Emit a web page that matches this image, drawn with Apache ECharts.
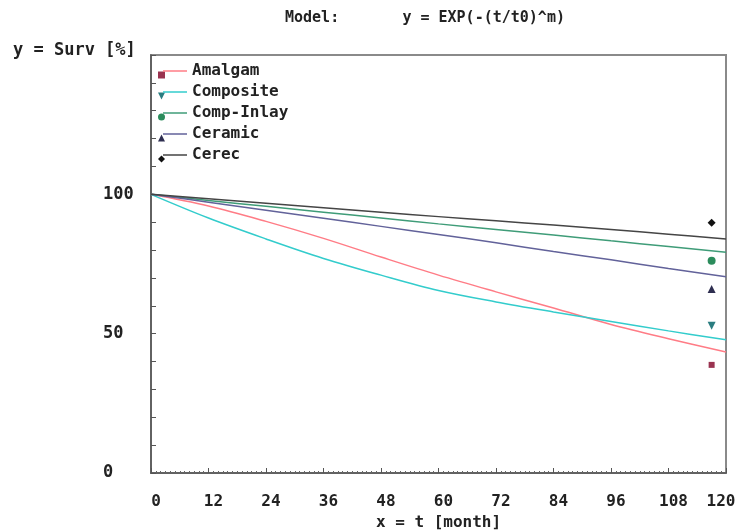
<!DOCTYPE html>
<html><head><meta charset="utf-8">
<script src="https://cdn.jsdelivr.net/npm/echarts@6/dist/echarts.min.js"></script>
<style>html,body{margin:0;padding:0;background:#fff}#c{width:741px;height:530px}</style>
</head><body><div id="c"></div>
<script>
// months at which curve values were read
const months = [0, 12, 24, 36, 48, 60, 72, 84, 96, 108, 120];
const names = ['Amalgam', 'Composite', 'Comp-Inlay', 'Ceramic', 'Cerec'];
// fitted model curves (survival %)
const amalgamCurve   = [100, 95.8, 90.3, 84.2, 77.5, 71.0, 65.0, 59.2, 53.3, 48.2, 43.4];
const compositeCurve = [100, 91.5, 84.0, 77.0, 71.0, 65.5, 61.4, 57.8, 54.4, 51.0, 47.8];
const compInlayCurve = [100, 97.8, 95.7, 93.6, 91.5, 89.4, 87.4, 85.4, 83.3, 81.3, 79.2];
const ceramicCurve   = [100, 97.2, 94.3, 91.4, 88.5, 85.6, 82.6, 79.5, 76.5, 73.4, 70.4];
const cerecCurve     = [100, 98.4, 96.8, 95.2, 93.6, 92.0, 90.5, 89.0, 87.4, 85.7, 84.0];
// observed points
const obsMonth = 117;
const obsValues = [38.8, 52.8, 76.2, 66.0, 89.8];
// axis ticks
const xTicks = [0, 12, 24, 36, 48, 60, 72, 84, 96, 108, 120];
const yLabels = [0, 50, 100];

const curves = [amalgamCurve, compositeCurve, compInlayCurve, ceramicCurve, cerecCurve];
const lineColors = ['#ff7c86', '#33cccc', '#3f9c78', '#62629a', '#454545'];
const markColors = ['#9a3350', '#2a7d80', '#2b8c5c', '#2e2e50', '#111111'];
const downTri = 'path://M0,0 L10,0 L5,10 Z';
const symbols = ['rect', downTri, 'circle', 'triangle', 'diamond'];
const symSizes = [6, 8, 8, 8, 8];
const FONT = 'DejaVu Sans Mono';
const lblFont = { fontFamily: FONT, fontSize: 16, fontWeight: 'bold', color: '#222' };

const series = [];
names.forEach((n, i) => {
  series.push({
    name: n, type: 'line', smooth: 0.35, showSymbol: false,
    lineStyle: { color: lineColors[i], width: 1.5 }, itemStyle: { color: lineColors[i] },
    data: months.map((m, k) => [m, curves[i][k]]), z: 2
  });
});
names.forEach((n, i) => {
  series.push({
    name: n, type: 'scatter', symbol: symbols[i], symbolSize: symSizes[i],
    itemStyle: { color: markColors[i], opacity: 1 },
    data: [[obsMonth, obsValues[i]]], z: 3
  });
});

const chart = echarts.init(document.getElementById('c'));
chart.setOption({
  animation: false,
  title: [
    { text: 'Model:       y = EXP(-(t/t0)^m)', left: 280, top: 6,
      textStyle: { fontFamily: FONT, fontSize: 15, fontWeight: 'bold', color: '#222' } },
    { text: 'y = Surv [%]', left: 8, top: 37,
      textStyle: { fontFamily: FONT, fontSize: 17, fontWeight: 'bold', color: '#222' } }
  ],
  legend: [
    { orient: 'vertical', left: 158, top: 66, padding: 0, itemGap: 3,
      itemWidth: 7, itemHeight: 7, formatter: () => ' ',
      textStyle: { fontFamily: FONT, fontSize: 16, lineHeight: 18 },
      data: names.map((n, i) => ({ name: n, icon: symbols[i], itemStyle: { color: markColors[i], opacity: 1 } })) },
    { orient: 'vertical', left: 163, top: 62, padding: 0, itemGap: 3,
      itemWidth: 24, itemHeight: 1.5, icon: 'rect',
      textStyle: { fontFamily: FONT, fontSize: 16, fontWeight: 'bold', lineHeight: 18, color: '#222' },
      data: names.map((n, i) => ({ name: n, itemStyle: { color: lineColors[i] } })) }
  ],
  grid: { left: 151, right: 15, top: 55, bottom: 57, show: true, borderColor: '#8a8a8a', borderWidth: 2,
    containLabel: false, outerBoundsMode: 'none' },
  xAxis: {
    type: 'value', min: 0, max: 120, interval: 12,
    name: 'x = t [month]', nameLocation: 'middle', nameGap: 41,
    nameTextStyle: lblFont,
    axisLine: { lineStyle: { color: '#555', width: 1.5 } },
    axisTick: { inside: true, length: 5, lineStyle: { color: '#555' } },
    minorTick: { show: true, splitNumber: 12, length: 2, lineStyle: { color: '#666' } },
    splitLine: { show: false },
    axisLabel: Object.assign({ margin: 21,
      formatter: v => !xTicks.includes(v) ? '' : (v === 120 ? '{e|' + v + '}' : '{a|' + v + '}'),
      rich: { a: Object.assign({ padding: [0, 0, 0, 10] }, lblFont), e: Object.assign({ padding: [0, 10, 0, 0] }, lblFont) }
    }, lblFont)
  },
  yAxis: {
    type: 'value', min: 0, max: 150, interval: 10,
    axisLine: { show: true, lineStyle: { color: '#555', width: 1.5 } },
    axisTick: { show: true, inside: true, length: 5, lineStyle: { color: '#555' } },
    splitLine: { show: false },
    axisLabel: { margin: 48, align: 'left', fontFamily: FONT, fontSize: 17, fontWeight: 'bold', color: '#222',
      formatter: v => yLabels.includes(v) ? String(v) : '' }
  },
  series: series
});
</script></body></html>
